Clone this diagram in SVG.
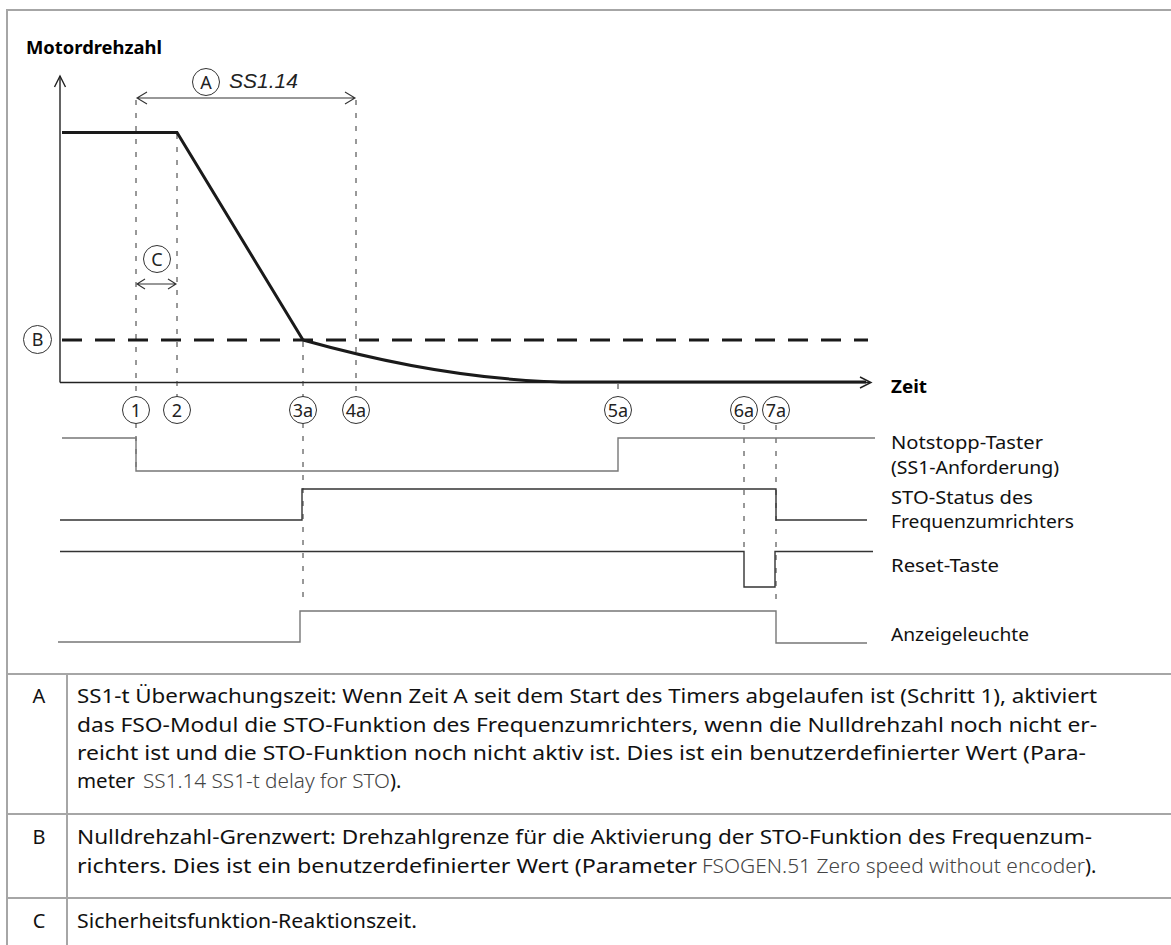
<svg xmlns="http://www.w3.org/2000/svg" width="1171" height="945" viewBox="0 0 1171 945">
<style>
  .frame{stroke:#a6a6a6;stroke-width:2;fill:none}
  .ax{stroke:#222;stroke-width:1.4;fill:none}
  .thick{stroke:#1a1a1a;stroke-width:3;fill:none;stroke-linejoin:miter}
  .dim{stroke:#333;stroke-width:1.1;fill:none}
  .dot{stroke:#333;stroke-width:1;fill:none;stroke-dasharray:5 8}
  .sig{stroke:#333;stroke-width:1.4;fill:none}
  .sigg{stroke:#777;stroke-width:1.4;fill:none}
  .circ{stroke:#333;stroke-width:1;fill:#fff}
  .ct{font-family:"Noto Sans","Liberation Sans",sans-serif;font-size:18px;fill:#222;text-anchor:middle}
  .lab{font-family:"Noto Sans","Liberation Sans",sans-serif;font-size:18.5px;fill:#111}
  .bold{font-family:"Noto Sans","Liberation Sans",sans-serif;font-size:18px;font-weight:bold;fill:#000}
  .tt{font-family:"Noto Sans","Liberation Sans",sans-serif;font-size:20px;fill:#111}
  .lt{font-weight:300;fill:#444}
</style>

<g id="frame">
  <path class="frame" d="M7,945 V10 H1171"/>
</g>

<g id="axes">
  <path class="ax" d="M60,382.5 V76"/>
  <path class="ax" d="M54.5,87 L60,76 L65.5,87"/>
  <path class="ax" d="M60,382.5 H870"/>
  <path class="ax" d="M860,377 L871,382.5 L860,388"/>
  <text class="bold" x="26" y="54" textLength="136" lengthAdjust="spacingAndGlyphs">Motordrehzahl</text>
  <text class="bold" x="891" y="393" textLength="36" lengthAdjust="spacingAndGlyphs">Zeit</text>
</g>

<g id="guides">
  <path class="dot" d="M136,100 V397 M136,423 V470"/>
  <path class="dot" d="M177,134 V397"/>
  <path class="dot" d="M303,342 V397 M303,423 V605"/>
  <path class="dot" d="M356,100 V397"/>
  <path class="dot" d="M618,384 V397"/>
  <path class="dot" d="M744,425 V552"/>
  <path class="dot" d="M776,425 V602"/>
</g>

<g id="zero-speed-limit">
  <path d="M62,340 H868" stroke="#1a1a1a" stroke-width="3" stroke-dasharray="20 13" fill="none"/>
</g>

<g id="speed-curve">
  <path class="thick" d="M62,132.5 H177 L303,340 Q460,384 590,382 H866"/>
</g>

<g id="dim-A">
  <path class="dim" d="M137,98 H355 M147,92 L137,98 L147,104 M345,92 L355,98 L345,104"/>
  <circle class="circ" cx="206" cy="82" r="13.5"/>
  <text class="ct" x="206" y="88.5">A</text>
  <text x="229" y="88" font-family="Liberation Sans, Arial, sans-serif" font-size="21" font-style="italic" fill="#222">SS1.14</text>
</g>

<g id="dim-C">
  <path class="dim" d="M137,284 H176 M145,279 L137,284 L145,289 M168,279 L176,284 L168,289"/>
  <circle class="circ" cx="157" cy="259" r="13.5"/>
  <text class="ct" x="157" y="265.5">C</text>
</g>

<g id="label-B">
  <circle class="circ" cx="37.5" cy="339.5" r="14"/>
  <text class="ct" x="37.5" y="346">B</text>
</g>

<g id="step-markers">
  <circle class="circ" cx="136" cy="410" r="13.5"/><text class="ct" x="136" y="416.5">1</text>
  <circle class="circ" cx="177" cy="410" r="13.5"/><text class="ct" x="177" y="416.5">2</text>
  <circle class="circ" cx="303" cy="410" r="13.5"/><text class="ct" x="303" y="416.5">3a</text>
  <circle class="circ" cx="356" cy="410" r="13.5"/><text class="ct" x="356" y="416.5">4a</text>
  <circle class="circ" cx="618" cy="410" r="13.5"/><text class="ct" x="618" y="416.5">5a</text>
  <circle class="circ" cx="744" cy="410" r="13.5"/><text class="ct" x="744" y="416.5">6a</text>
  <circle class="circ" cx="776" cy="410" r="13.5"/><text class="ct" x="776" y="416.5">7a</text>
</g>

<g id="signal-notstopp">
  <path class="sigg" d="M62,438 H136 V471 H618 V438 H875"/>
  <text class="lab" x="891" y="449" textLength="152" lengthAdjust="spacingAndGlyphs">Notstopp-Taster</text>
  <text class="lab" x="891" y="474" textLength="168" lengthAdjust="spacingAndGlyphs">(SS1-Anforderung)</text>
</g>

<g id="signal-sto">
  <path class="sig" d="M60,520 H302 V489 H776 V520 H867"/>
  <text class="lab" x="891" y="504" textLength="142" lengthAdjust="spacingAndGlyphs">STO-Status des</text>
  <text class="lab" x="891" y="528" textLength="183" lengthAdjust="spacingAndGlyphs">Frequenzumrichters</text>
</g>

<g id="signal-reset">
  <path class="sig" d="M60,551.5 H744 V587 H775 V551.5 H873"/>
  <text class="lab" x="891" y="572" textLength="108" lengthAdjust="spacingAndGlyphs">Reset-Taste</text>
</g>

<g id="signal-lamp">
  <path class="sigg" d="M58,642 H300 V611 H776 V643 H867"/>
  <text class="lab" x="891" y="641" textLength="138" lengthAdjust="spacingAndGlyphs">Anzeigeleuchte</text>
</g>

<g id="legend-table">
  <path class="frame" d="M7,674 H1171 M7,814 H1171 M7,898 H1171 M67,674 V945"/>
  <text class="tt" x="39" y="703" text-anchor="middle">A</text>
  <text class="tt" x="77" y="703" textLength="1020" lengthAdjust="spacingAndGlyphs">SS1-t Überwachungszeit: Wenn Zeit A seit dem Start des Timers abgelaufen ist (Schritt 1), aktiviert</text>
  <text class="tt" x="77" y="732" textLength="1020" lengthAdjust="spacingAndGlyphs">das FSO-Modul die STO-Funktion des Frequenzumrichters, wenn die Nulldrehzahl noch nicht er-</text>
  <text class="tt" x="77" y="760" textLength="1009" lengthAdjust="spacingAndGlyphs">reicht ist und die STO-Funktion noch nicht aktiv ist. Dies ist ein benutzerdefinierter Wert (Para-</text>
  <text class="tt" x="77" y="788" textLength="58" lengthAdjust="spacingAndGlyphs">meter</text>
  <text class="tt lt" x="143" y="788" textLength="247" lengthAdjust="spacingAndGlyphs">SS1.14 SS1-t delay for STO</text>
  <text class="tt" x="390" y="788">).</text>
  <text class="tt" x="39" y="844" text-anchor="middle">B</text>
  <text class="tt" x="77" y="844" textLength="1015" lengthAdjust="spacingAndGlyphs">Nulldrehzahl-Grenzwert: Drehzahlgrenze für die Aktivierung der STO-Funktion des Frequenzum-</text>
  <text class="tt" x="77" y="873" textLength="620" lengthAdjust="spacingAndGlyphs">richters. Dies ist ein benutzerdefinierter Wert (Parameter</text>
  <text class="tt lt" x="702" y="873" textLength="383" lengthAdjust="spacingAndGlyphs">FSOGEN.51 Zero speed without encoder</text>
  <text class="tt" x="1085" y="873">).</text>
  <text class="tt" x="39" y="928" text-anchor="middle">C</text>
  <text class="tt" x="77" y="928" textLength="340" lengthAdjust="spacingAndGlyphs">Sicherheitsfunktion-Reaktionszeit.</text>
</g>
</svg>
